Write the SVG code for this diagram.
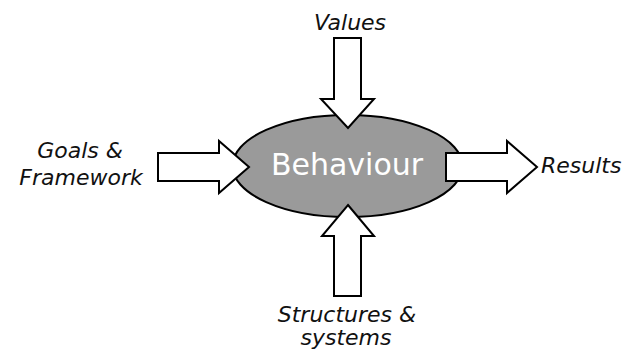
<svg xmlns="http://www.w3.org/2000/svg" width="627" height="355" viewBox="0 0 627 355">
<style>
.lbl{font-family:"DejaVu Sans","Liberation Sans",sans-serif;font-style:italic;font-size:22px;fill:#111}
.arrow{fill:#fff;stroke:#000;stroke-width:2;stroke-linejoin:miter}
.core{fill:#9a9a9a;stroke:#000;stroke-width:2}
.coretext{font-family:"DejaVu Sans","Liberation Sans",sans-serif;font-size:30px;fill:#fff}
</style>
<rect width="627" height="355" fill="#fff"/>
<g id="behaviour">
<ellipse class="core" cx="347.5" cy="166" rx="115" ry="51"/>
<text class="coretext" x="347" y="175" text-anchor="middle">Behaviour</text>
</g>
<g id="connectors">
<polygon class="arrow" points="334,38 361,38 361,99 374,99 348,128 321,99 334,99"/>
<polygon class="arrow" points="158,153 219,153 219,141 249,167 219,193 219,181 158,181"/>
<polygon class="arrow" points="446,153 507,153 507,141 537,167 507,193 507,181 446,181"/>
<polygon class="arrow" points="348,205 374,236 361,236 361,296 334,296 334,236 322,236"/>
</g>
<g id="values"><text class="lbl" x="350" y="30" text-anchor="middle">Values</text></g>
<g id="goals"><text class="lbl" x="80" y="158" text-anchor="middle">Goals &amp;</text><text class="lbl" x="81" y="185" text-anchor="middle">Framework</text></g>
<g id="results"><text class="lbl" x="541" y="173">Results</text></g>
<g id="structures"><text class="lbl" x="347" y="322" text-anchor="middle">Structures &amp;</text><text class="lbl" x="346" y="345" text-anchor="middle">systems</text></g>
</svg>
